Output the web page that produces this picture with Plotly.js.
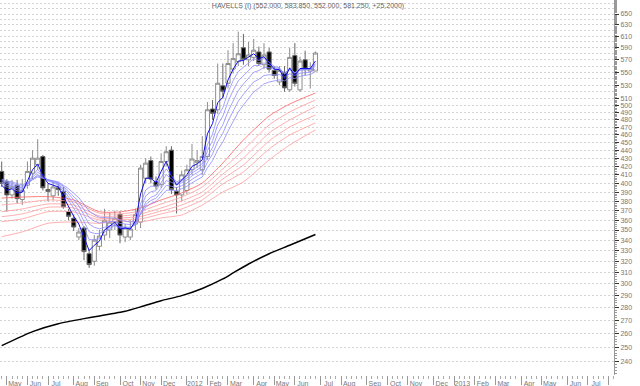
<!DOCTYPE html>
<html>
<head>
<meta charset="utf-8">
<script src="https://cdn.plot.ly/plotly-3.0.1.min.js"></script>
<style>html,body{margin:0;padding:0;background:#fff;}#chart{width:640px;height:386px;}</style>
</head>
<body>
<div id="chart"></div>
<script>
// Weekly bars (week ending Friday)
const weeks = ["2011-04-29","2011-05-06","2011-05-13","2011-05-20","2011-05-27","2011-06-03","2011-06-10","2011-06-17","2011-06-24",
"2011-07-01","2011-07-08","2011-07-15","2011-07-22","2011-07-29","2011-08-05","2011-08-12","2011-08-19","2011-08-26",
"2011-09-02","2011-09-09","2011-09-16","2011-09-23","2011-09-30","2011-10-07","2011-10-14","2011-10-21","2011-10-28",
"2011-11-04","2011-11-11","2011-11-18","2011-11-25","2011-12-02","2011-12-09","2011-12-16","2011-12-23","2011-12-30",
"2012-01-06","2012-01-13","2012-01-20","2012-01-27","2012-02-03","2012-02-10","2012-02-17","2012-02-24",
"2012-03-02","2012-03-09","2012-03-16","2012-03-23","2012-03-30","2012-04-06","2012-04-13","2012-04-20","2012-04-27",
"2012-05-04","2012-05-11","2012-05-18","2012-05-25","2012-06-01","2012-06-08","2012-06-15","2012-06-22","2012-06-29"];
const openP  = [414,402,387,398,382,398,412,422,432, 393,386,395,391,369,362,343,352,327, 320,334,345,350,358,366,343,343,356,
358,406,427,402,399,426,440,391,387, 392,416,425,416,432,495,494,529, 533,555,567,590,570,574,583,562,583, 553,535,550,523,577,523,570,552,552];
const highP  = [426,405,404,404,405,426,440,454,434, 400,402,400,396,372,366,352,354,331, 345,350,372,368,370,369,356,360,372,
422,430,432,408,436,445,445,396,415, 422,448,440,458,505,508,564,564, 586,598,618,614,600,605,592,598,590, 560,560,560,590,598,575,585,566,583.85];
const lowP   = [396,369,383,378,376,394,405,416,392, 380,381,386,372,360,349,340,321,314, 316,330,340,342,350,337,338,340,350,
352,400,400,393,395,420,388,367,380, 388,410,418,410,428,480,488,510, 525,548,560,562,560,568,560,555,550, 540,530,520,520,528,520,545,525,552];
const closeP = [400,387,396,383,392,414,430,430,395, 391,396,393,374,364,353,348,329,317, 340,344,360,358,362,345,352,351,366,
418,424,405,397,426,438,393,387,410, 416,429,427,432,494,489,533,521, 564,572,580,571,578,586,564,578,555, 545,553,526,574,533,568,555,556,581.25];

// Short-term averages (blue), read per week
const blue1 = [398,392,394,389,390,402,416,423,409, 400,398,396,385,374,364,356,342,330, 335,339,350,354,358,351,352,351,359,
388,406,406,401,414,426,409,398,404, 410,420,423,428,461,475,504,512, 538,555,568,569,574,580,572,575,565, 555,554,540,557,545,556,556,556,568];
const blue2 = [400,395.7,395.8,391.5,391.7,399.1,409.4,416.3,409.2, 403.1,400.7,398.1,390.1,381.4,371.9,363.9,352.3,340.5,
340.3,341.5,347.7,351.1,354.7,351.5,351.7,351.5,356.3, 376.9,392.6,396.7,396.8,406.5,417,409,401.7,404.5,
408.3,415.2,419.1,423.4,446.9,460.9,484.9,496.9, 519.3,536.9,551.2,557.8,564.5,571.7,569.1,572.1,566.4,
559.3,557.2,546.8,555.9,548.3,554.8,554.9,555.3,563.8];
const blue3 = [401.5,397.8,397.4,393.7,393.4,399,407.3,413.2,408.1, 403.5,401.5,399.3,392.6,385.2,376.8,369.5,359.1,348.3,
346.6,346.3,350.3,352.5,355.1,352.5,352.4,352.1,355.9, 372.4,385.9,390.5,391.8,400.6,410.2,405.2,400.1,402.6,
406.1,412,415.8,419.9,439.4,452.1,473.1,485.1, 505.4,522.2,536.6,544.8,552.8,560.9,561,565,561.9,
557.1,555.9,547.8,554.9,549,554.1,554.3,554.7,561.7];
const blue4 = [403,399.8,399,395.8,395,398.8,405.1,410,407, 403.8,402.3,400.4,395.1,388.9,381.7,375,365.8,356,
352.8,351.1,352.8,353.9,355.5,353.4,353.1,352.7,355.4, 367.9,379.1,384.3,386.8,394.7,403.3,401.3,398.4,400.7,
403.8,408.8,412.5,416.4,431.9,443.3,461.3,473.2, 491.4,507.5,522,531.8,541,550,552.8,557.9,557.3,
554.8,554.5,548.8,553.8,549.7,553.3,553.7,554.1,559.5];
const blue5 = [404,401.3,400.5,397.7,396.8,399.7,404.7,408.7,406.5, 403.9,402.7,401.1,396.7,391.5,385.3,379.4,371.4,362.7,
359.3,357.1,357.8,358,358.8,356.7,356.1,355.4,357.2, 367.2,376.4,380.9,383.4,390.2,397.8,396.8,395.1,397.4,
400.3,404.8,408.3,412,425.1,435.2,450.8,461.8, 478,492.8,506.4,516.3,525.8,535,539.1,545,546.1,
545.5,546.4,542.8,547.6,545,548.6,549.5,550.3,555.2];
const blue6 = [405,402.8,401.9,399.6,398.6,400.5,404.2,407.4,405.9, 404,403,401.8,398.3,394,388.9,383.8,376.9,369.4,
365.7,363,362.7,362.1,362.1,360,359,358,359, 366.4,373.6,377.5,379.9,385.7,392.2,392.3,391.7,394,
396.7,400.7,404,407.5,418.3,427.1,440.3,450.4, 464.6,478,490.8,500.8,510.5,519.9,525.4,532,534.9,
536.1,538.2,536.7,541.4,540.3,543.8,545.2,546.5,550.8];

// Long-term averages (red), read every few weeks
const redWeeks = ["2011-04-29","2011-05-27","2011-07-01","2011-08-05","2011-09-09","2011-10-07","2011-11-04","2011-12-02",
"2011-12-30","2012-01-27","2012-02-24","2012-03-23","2012-04-27","2012-05-25","2012-06-29"];
const red1 = [383.6,384.7,385.1,381.5,368.8,368.6,372.8,381.5,389.2,400.5,424.1,453.0,485.3,502.2,518.3];
const red2 = [376.0,378.2,381.5,379.3,367.2,366.5,369.6,377.1,384.7,395.9,416.9,440.2,472.9,490.9,508.0];
const red3 = [368.8,371.8,377.1,376.0,364.4,364.4,366.5,372.8,380.4,390.3,410.9,430.2,462.2,479.8,498.4];
const red4 = [363.6,366.5,373.6,372.8,362.0,362.3,363.9,369.6,376.0,385.9,405.1,421.7,451.8,470.2,486.7];
const red5 = [358.5,361.3,368.8,368.6,360.2,360.8,361.3,366.5,371.8,381.5,399.4,413.4,441.5,459.5,475.7];
const red6 = [343.4,348.1,356.8,358.2,356.8,359.2,358.2,362.3,365.4,376.0,390.3,401.7,427.8,446.6,466.2];

// Long moving average (black)
const blackWeeks = ["2011-04-29","2011-06-10","2011-07-15","2011-08-19","2011-09-09","2011-10-14","2011-11-04","2011-12-02",
"2011-12-30","2012-01-27","2012-02-24","2012-03-09","2012-03-30","2012-04-27","2012-05-25","2012-06-29"];
const blackMA = [251.3,261.6,267.6,271.5,273.6,277.3,280.8,285.8,290,296,304.2,309.5,317.5,327,335,345.5];

// Axis tick labels
const monthTicks = ["2011-05-06","2011-06-03","2011-07-01","2011-08-05","2011-09-02","2011-10-07","2011-11-04","2011-12-02",
"2012-01-06","2012-02-03","2012-03-02","2012-04-06","2012-05-04","2012-06-01","2012-07-06","2012-08-03","2012-09-07",
"2012-10-05","2012-11-02","2012-12-07","2013-01-04","2013-02-01","2013-03-01","2013-04-05","2013-05-03","2013-06-07",
"2013-07-05","2013-08-02"];
const monthLabels = ["May","Jun","Jul","Aug","Sep","Oct","Nov","Dec","2012","Feb","Mar","Apr","May","Jun","Jul","Aug","Sep",
"Oct","Nov","Dec","2013","Feb","Mar","Apr","May","Jun","Jul",""];
const priceTicks = [];
const priceLabels = [];
for (let v = 240; v <= 670; v += 10) {
  priceTicks.push(v);
  priceLabels.push((v <= 510 || (v <= 650 && (v - 510) % 20 === 0)) ? String(v) : "");
}
const minorTicks = [];
for (let v = 232; v <= 676; v += 2) minorTicks.push(v);

const FONT = "Liberation Sans, Arial, sans-serif";
const traces = [];
traces.push({
  type: "candlestick", x: weeks, open: openP, high: highP, low: lowP, close: closeP,
  increasing: {line: {color: "#8c8c8c", width: 1}, fillcolor: "#ffffff"},
  decreasing: {line: {color: "#666666", width: 1}, fillcolor: "#000000"},
  whiskerwidth: 0, hoverinfo: "skip", showlegend: false
});
[red1, red2, red3, red4, red5, red6].forEach((r, k) => {
  traces.push({type: "scatter", mode: "lines", x: redWeeks, y: r, showlegend: false, hoverinfo: "skip",
    line: {color: k === 0 ? "#ff6060" : "#ff9a9a", width: 0.8, shape: "spline", smoothing: 0.6}});
});
[blue6, blue5, blue4, blue3, blue2].forEach((b) => {
  traces.push({type: "scatter", mode: "lines", x: weeks, y: b, showlegend: false, hoverinfo: "skip",
    line: {color: "#8c8cff", width: 0.8}});
});
traces.push({type: "scatter", mode: "lines", x: weeks, y: blue1, showlegend: false, hoverinfo: "skip",
  line: {color: "#1010e8", width: 1}});
traces.push({type: "scatter", mode: "lines", x: blackWeeks, y: blackMA, showlegend: false, hoverinfo: "skip",
  line: {color: "#000000", width: 1.5, shape: "spline", smoothing: 0.5}});

const layout = {
  width: 640, height: 386,
  margin: {l: 0, r: 26, t: 0, b: 11, pad: 0},
  paper_bgcolor: "#ffffff", plot_bgcolor: "#ffffff",
  showlegend: false, boxgap: 0.2, boxgroupgap: 0,
  font: {family: FONT, size: 7, color: "#777777"},
  title: {text: "HAVELLS (I) (552.000, 583.850, 552.000, 581.250, +25.2000)",
    font: {family: FONT, size: 7, color: "#666666"},
    x: 308 / 640, xanchor: "center", xref: "container", y: 1 - 6 / 386, yanchor: "middle", yref: "container"},
  xaxis: {
    type: "date", range: ["2011-04-26 16:00", "2013-08-09 10:00"],
    rangeslider: {visible: false},
    showgrid: false, zeroline: false, showline: false,
    tickmode: "array", tickvals: monthTicks, ticktext: monthLabels,
    ticks: "outside", ticklen: 9, tickcolor: "#999999", tickwidth: 1,
    ticklabelshift: 8, ticklabelstandoff: -7,
    tickfont: {family: FONT, size: 7, color: "#777777"},
    minor: {ticks: "outside", ticklen: 3, tickcolor: "#aaaaaa", dtick: 7 * 86400000, tick0: "2011-04-29", showgrid: false},
    fixedrange: true
  },
  yaxis: {
    type: "log", side: "right",
    range: [Math.log10(231.0), Math.log10(676.6)],
    tickmode: "array", tickvals: priceTicks, ticktext: priceLabels,
    showgrid: true, gridcolor: "#d4d4d4", griddash: "2px,2px", gridwidth: 1,
    showline: true, linecolor: "#999999", linewidth: 1,
    ticks: "outside", ticklen: 4, tickcolor: "#333333", tickwidth: 1,
    tickfont: {family: FONT, size: 7, color: "#777777"},
    minor: {tickmode: "array", tickvals: minorTicks, ticks: "outside", ticklen: 2, tickcolor: "#999999", showgrid: false},
    zeroline: false, fixedrange: true
  }
};
Plotly.newPlot("chart", traces, layout, {staticPlot: true, displayModeBar: false});
</script>
</body>
</html>
